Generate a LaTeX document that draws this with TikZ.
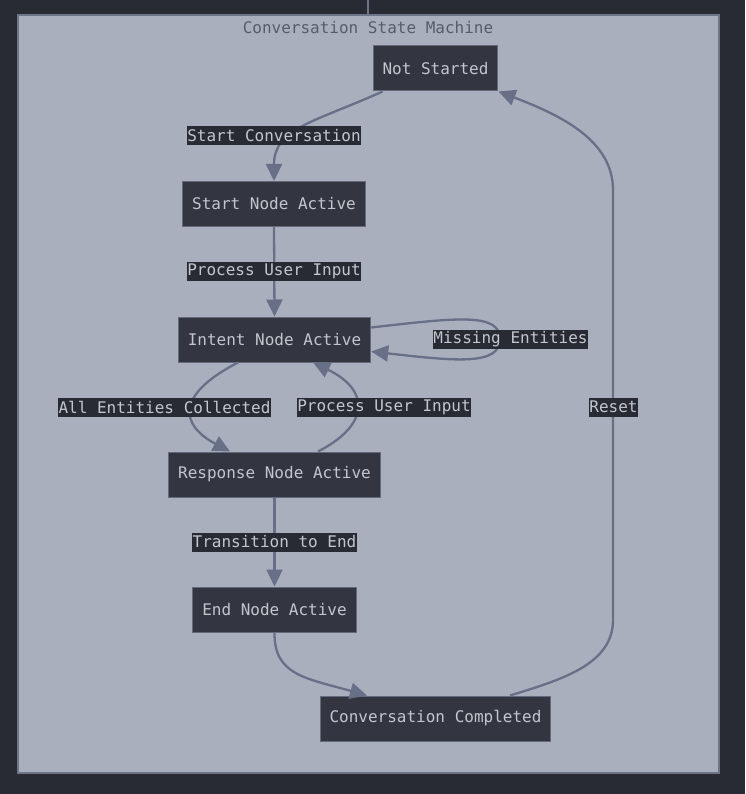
\documentclass[tikz,border=0pt]{standalone}
\usepackage{fontspec}
\setmonofont{DejaVu Sans Mono}
\usetikzlibrary{arrows.meta}

\definecolor{bgdark}{HTML}{282B34}
\definecolor{clusterfill}{HTML}{A9AFBC}
\definecolor{clusterline}{HTML}{6E7587}
\definecolor{statefill}{HTML}{333640}
\definecolor{stateline}{HTML}{626A7B}
\definecolor{statetext}{HTML}{C2C6CE}
\definecolor{edgecol}{HTML}{687088}
\definecolor{lblfill}{HTML}{282B34}
\definecolor{titlecol}{HTML}{555C6B}

\tikzset{
  state/.style={draw=stateline, line width=1pt, fill=statefill, text=statetext,
    font=\ttfamily\fontsize{16}{19}\selectfont, inner xsep=9.5pt, inner ysep=0pt,
    minimum height=45pt},
  lbl/.style={fill=lblfill, text=statetext, font=\ttfamily\fontsize{16}{19}\selectfont,
    inner xsep=0.5pt, inner ysep=0pt, minimum height=19pt},
  flow/.style={draw=edgecol, line width=2.3pt,
    -{Triangle[length=17pt,width=16pt]}},
}

\begin{document}
\begin{tikzpicture}[x=1pt,y=-1pt]
  % page and outer frame
  \fill[bgdark] (0,0) rectangle (745,794);
  \useasboundingbox (0,0) rectangle (745,794);
  \draw[clusterline, line width=1.5pt] (368,0) -- (368,15);
  \draw[clusterline, line width=1.5pt, fill=clusterfill] (18,15) rectangle (719,773);
  \node[text=titlecol, font=\ttfamily\fontsize{16}{19}\selectfont] (title) at (368,28) {Conversation State Machine};

  % states
  \node[state] (ns)  at (435.5,68.5)  {Not Started};
  \node[state] (sn)  at (274,204)     {Start Node Active};
  \node[state] (in)  at (274.5,339.5) {Intent Node Active};
  \node[state] (rn)  at (274.5,474.5) {Response Node Active};
  \node[state] (en)  at (274.5,609.5) {End Node Active};
  \node[state] (cc)  at (435.5,718.5) {Conversation Completed};

  % transitions
  \draw[flow] ([xshift=10pt]ns.south west) .. controls (315,122) and (274,128) .. (sn.north);
  \draw[flow] (sn.south) -- (in.north);
  \draw[flow] ([yshift=12pt]in.east) .. controls (455,318) and (500,312) .. (500,339)
              .. controls (500,366) and (455,361) .. ([yshift=-12pt]in.east);
  \draw[flow] ([xshift=-36.5pt]in.south) .. controls (175,395) and (180,425) .. ([xshift=-44.5pt]rn.north);
  \draw[flow] ([xshift=43.5pt]rn.north) .. controls (370,425) and (370,390) .. ([xshift=38.5pt]in.south);
  \draw[flow] (rn.south) -- (en.north);
  \draw[flow] (en.south) .. controls (274,675) and (305,678) .. ([xshift=-68.5pt]cc.north);
  \draw[flow] ([xshift=74.5pt]cc.north) .. controls (560,680) and (613,665) .. (613,620)
              -- (613,190) .. controls (613,140) and (560,115) .. (ns.south east);

  % transition labels
  \node[lbl] (l1) at (274,136) {Start Conversation};
  \node[lbl] (l2) at (274,271) {Process User Input};
  \node[lbl] (l3) at (510.5,339) {Missing Entities};
  \node[lbl] (l4) at (164.5,407) {All Entities Collected};
  \node[lbl] (l5) at (384,407) {Process User Input};
  \node[lbl] (l6) at (613.5,407) {Reset};
  \node[lbl] (l7) at (274.5,542) {Transition to End};
\end{tikzpicture}
\end{document}
